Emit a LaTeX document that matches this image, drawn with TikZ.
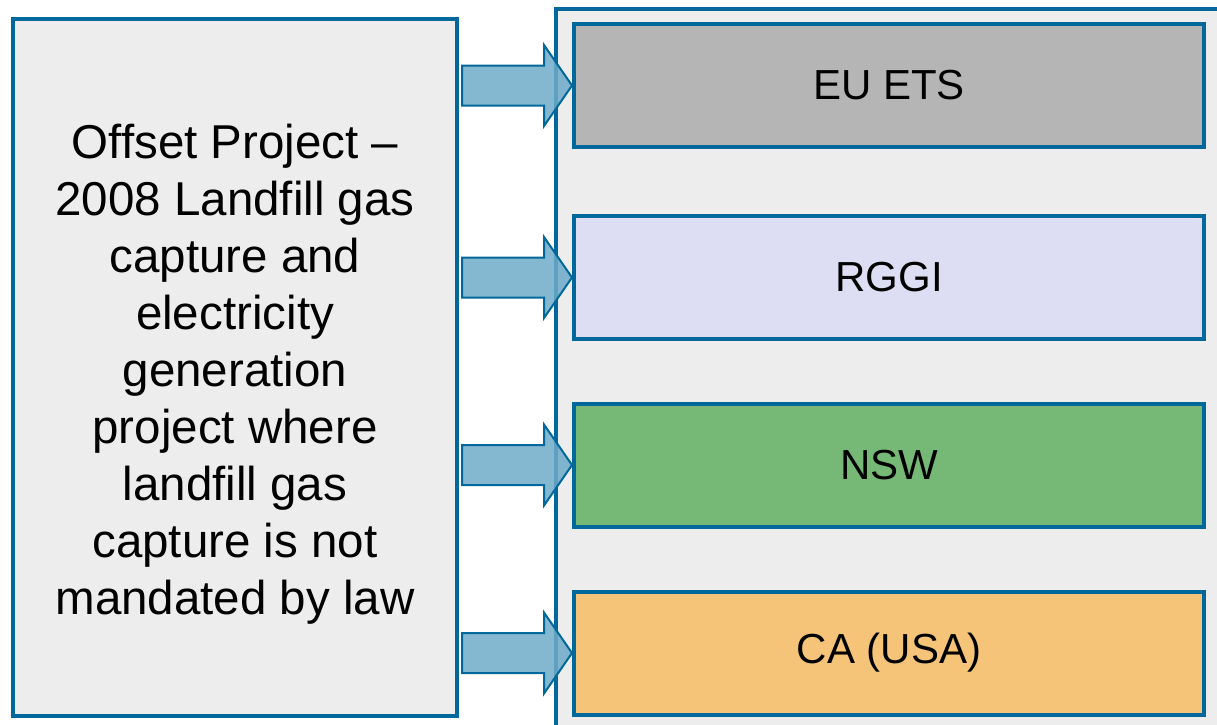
\documentclass[tikz,border=0pt]{standalone}
\usepackage{fontspec}
\setmainfont{Liberation Sans}
\usetikzlibrary{calc}

\definecolor{edgeblue}{RGB}{0,104,155}
\definecolor{arrowblue}{RGB}{110,170,200}
\definecolor{panelgray}{RGB}{237,237,237}
\definecolor{etsgray}{RGB}{181,181,181}
\definecolor{rggililac}{RGB}{221,221,244}
\definecolor{nswgreen}{RGB}{118,184,118}
\definecolor{caorange}{RGB}{245,196,120}

\begin{document}
\begin{tikzpicture}[x=1pt, y=-1pt,
    scheme/.style={draw=edgeblue, line width=4pt, minimum width=630pt, minimum height=123pt,
        inner sep=0pt, font=\fontsize{42}{50}\selectfont},
    blockarrow/.style={draw=edgeblue, line width=2pt, fill=arrowblue, fill opacity=0.85, line join=miter}]
    \useasboundingbox (0,0) rectangle (1217,724);
    \clip (0,0) rectangle (1217,724);

    % Container of the schemes
    \draw[edgeblue, line width=4pt, fill=panelgray] (556,9) rectangle (1250,770);

    % Offset project
    \node[draw=edgeblue, line width=4pt, fill=panelgray, minimum width=444pt, minimum height=697pt]
        (offset) at (235,367.5) {};
    \node[align=center, font=\fontsize{47.5}{57}\selectfont] (offsettext) at ($(offset.center)+(0,7)$)
        {Offset Project –\\2008 Landfill gas\\capture and\\electricity\\generation\\project where\\landfill gas\\capture is not\\mandated by law};

    % Schemes
    \node[scheme, fill=etsgray] (ets) at (889,85.5) {EU ETS};
    \node[scheme, fill=rggililac] (rggi) at (889,277.5) {RGGI};
    \node[scheme, fill=nswgreen] (nsw) at (889,465) {NSW};
    \node[scheme, fill=caorange] (ca) at (889,653) {CA (USA)};

    % Block arrows
    \foreach \s in {ets, rggi, nsw, ca}
        \draw[blockarrow] ($(\s.west)+(-110,-20)$) -- ($(\s.west)+(-28,-20)$)
            -- ($(\s.west)+(-28,-40.5)$) -- (\s.west) -- ($(\s.west)+(-28,40.5)$)
            -- ($(\s.west)+(-28,20)$) -- ($(\s.west)+(-110,20)$) -- cycle;
\end{tikzpicture}
\end{document}
